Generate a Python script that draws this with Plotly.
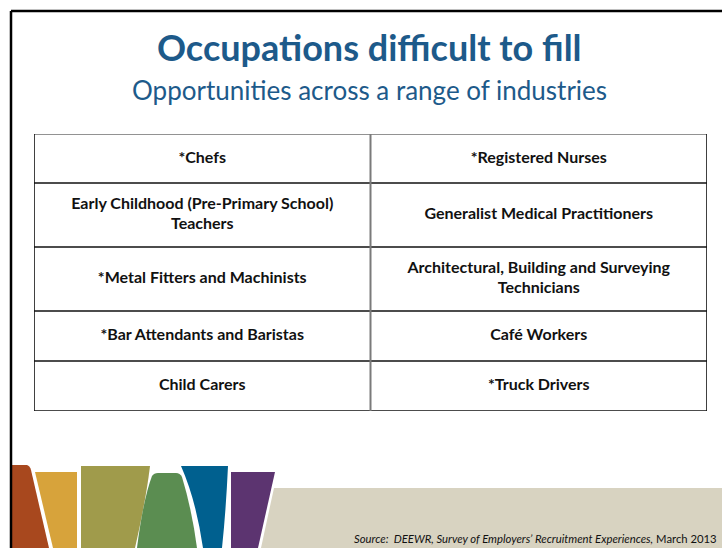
import plotly.graph_objects as go

# Slide content
TITLE = "Occupations difficult to fill"
SUBTITLE = "Opportunities across a range of industries"
LEFT_COLUMN = [
    "*Chefs",
    "Early Childhood (Pre-Primary School)<br>Teachers",
    "*Metal Fitters and Machinists",
    "*Bar Attendants and Baristas",
    "Child Carers",
]
RIGHT_COLUMN = [
    "*Registered Nurses",
    "Generalist Medical Practitioners",
    "Architectural, Building and Surveying<br>Technicians",
    "Café Workers",
    "*Truck Drivers",
]
SOURCE = ("<i>Source:  DEEWR, Survey of Employers’ Recruitment Experiences,</i>"
          " March 2013")

# Layout constants (pixels)
W, H = 722, 548
ROW_HEIGHTS = [49, 64, 64, 50, 50]
TABLE_LEFT, TABLE_RIGHT, TABLE_TOP = 34, 707, 134
TITLE_X = 369
TITLE_COLOR = "#1d5a8a"
FONT = "Lato"

table_h = sum(ROW_HEIGHTS)
bounds = [0]
for h in ROW_HEIGHTS:
    bounds.append(bounds[-1] + h)
centers = [(bounds[i] + bounds[i + 1]) / 2 for i in range(len(ROW_HEIGHTS))]

fig = go.Figure()

# Cell text, one trace per column
for col, values in enumerate([LEFT_COLUMN, RIGHT_COLUMN]):
    fig.add_trace(
        go.Scatter(
            x=[col + 0.5] * len(values),
            y=centers,
            text=[f"<b>{v}</b>" for v in values],
            mode="text",
            textposition="middle center",
            textfont=dict(family=FONT, size=16, color="#111111"),
            hoverinfo="skip",
            showlegend=False,
        )
    )

shapes = []

# Table grid
for i, b in enumerate(bounds):
    shapes.append(dict(
        type="line", xref="x", yref="y", x0=0, x1=2, y0=b, y1=b,
        line=dict(color="#6e6e6e" if i == 0 else "#111111", width=1.6),
    ))
for xv, colr, wd in [(0, "#111111", 1.6), (1, "#7a7a7a", 2), (2, "#111111", 1.6)]:
    shapes.append(dict(
        type="line", xref="x", yref="y", x0=xv, x1=xv, y0=0, y1=table_h,
        line=dict(color=colr, width=wd),
    ))

# Slide frame
shapes.append(dict(type="line", xref="x2", yref="y2", x0=11, x1=W, y0=11, y1=11,
                   line=dict(color="black", width=2.5)))
shapes.append(dict(type="line", xref="x2", yref="y2", x0=11, x1=11, y0=11, y1=H,
                   line=dict(color="black", width=2.5)))

# Decorative banner at the bottom
banner = [
    ("M 12,465 L 27,465 Q 30,466 31,470 L 49,548 L 12,548 Z", "#a8481e"),
    ("M 35,472 L 77,472 L 77,548 L 53,548 Z", "#d7a33b"),
    ("M 81,466 L 150,466 Q 146,500 135,548 L 81,548 Z", "#a09b4b"),
    ("M 137,548 Q 143,500 152,476 Q 154,473 158,473 L 176,473 "
     "Q 180,473 182,477 Q 192,510 197,548 Z", "#5b8d51"),
    ("M 181,466 L 228,466 Q 226,510 222,548 L 203,548 Q 196,500 181,466 Z", "#00608f"),
    ("M 231,472 L 275,472 L 258,548 L 231,548 Z", "#5c3470"),
    ("M 274,488 L 722,488 L 722,548 L 261,548 Z", "#d8d3c1"),
]
for path, colr in banner:
    shapes.append(dict(type="path", xref="x2", yref="y2", path=path,
                       fillcolor=colr, line=dict(width=0), layer="below"))

annotations = [
    dict(text=f"<b>{TITLE}</b>", x=TITLE_X / W, y=1 - 47 / H, xref="paper",
         yref="paper", xanchor="center", yanchor="middle", showarrow=False,
         font=dict(family=FONT, size=36, color=TITLE_COLOR)),
    dict(text=SUBTITLE, x=TITLE_X / W, y=1 - 90 / H, xref="paper", yref="paper",
         xanchor="center", yanchor="middle", showarrow=False,
         font=dict(family=FONT, size=26, color=TITLE_COLOR)),
    dict(text=SOURCE, x=719 / W, y=1 - 538 / H, xref="paper", yref="paper",
         xanchor="right", yanchor="middle", showarrow=False,
         font=dict(family=FONT, size=11.3, color="#111111")),
]

fig.update_layout(
    width=W,
    height=H,
    margin=dict(l=0, r=0, t=0, b=0),
    paper_bgcolor="white",
    plot_bgcolor="rgba(0,0,0,0)",
    xaxis=dict(domain=[TABLE_LEFT / W, TABLE_RIGHT / W], range=[0, 2],
               visible=False, fixedrange=True),
    yaxis=dict(domain=[1 - (TABLE_TOP + table_h) / H, 1 - TABLE_TOP / H],
               range=[table_h, 0], visible=False, fixedrange=True),
    xaxis2=dict(domain=[0, 1], range=[0, W], visible=False, anchor="y2",
                fixedrange=True),
    yaxis2=dict(domain=[0, 1], range=[H, 0], visible=False, anchor="x2",
                fixedrange=True),
    shapes=shapes,
    annotations=annotations,
    showlegend=False,
)

# drop the browser's default page margin so the slide sits at the window origin
fig.write_html(
    "out.html",
    config={"displayModeBar": False},
    post_script="document.body.style.margin='0';",
)
